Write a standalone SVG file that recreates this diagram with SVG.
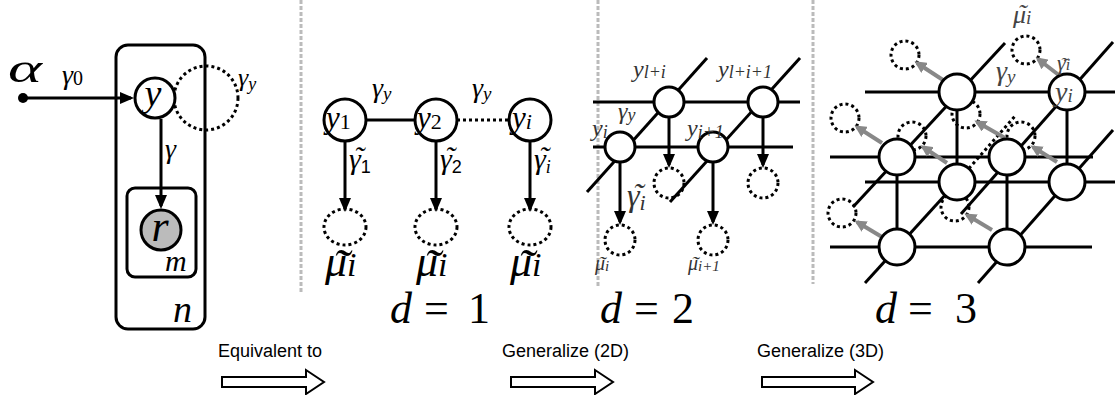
<svg xmlns="http://www.w3.org/2000/svg" width="1115" height="395" viewBox="0 0 1115 395">
<style>
.nd{fill:#fff;stroke:#000;stroke-width:3}
.gr{fill:#bbb;stroke:#000;stroke-width:3}
.dc{fill:none;stroke:#000;stroke-width:3;stroke-dasharray:3 3}
.ed{stroke:#000;stroke-width:3;fill:none}
.ar{stroke:#000;stroke-width:3;fill:none;marker-end:url(#ah)}
.ga{stroke:#888;stroke-width:4;fill:none;marker-end:url(#gh)}
.sep{stroke:#bbb;stroke-width:3;stroke-dasharray:4 2}
.pl{fill:none;stroke:#000;stroke-width:3}
.m{font-family:"Liberation Serif","DejaVu Serif",serif;font-style:italic;fill:#000}
.u{font-style:normal}
.g2{fill:#333}
.g3{fill:#444}
.t{font-family:"Liberation Sans",Arial,sans-serif;font-size:18px;fill:#000}
.blk{fill:#fff;stroke:#000;stroke-width:2}
</style>
<defs>
<marker id="ah" viewBox="0 0 14 12" refX="11" refY="6" markerWidth="14" markerHeight="12" markerUnits="userSpaceOnUse" orient="auto"><path d="M0,0 L14,6 L0,12 z" fill="#000"/></marker>
<marker id="gh" viewBox="0 0 12 12" refX="9" refY="6" markerWidth="12" markerHeight="12" markerUnits="userSpaceOnUse" orient="auto"><path d="M0,0 L12,6 L0,12 z" fill="#888"/></marker>
</defs>

<g id="separators">
<line class="sep" x1="301" y1="0" x2="301" y2="292"/>
<line class="sep" x1="598" y1="0" x2="598" y2="288"/>
<line class="sep" x1="813" y1="0" x2="813" y2="284"/>
</g>

<!-- Left: plate model -->
<g id="plate-n"><rect class="pl" x="116" y="45" width="89" height="284" rx="12"/><text class="m" x="173" y="322" font-size="38">n</text></g>
<g id="plate-m"><rect class="pl" x="127" y="188" width="69" height="89" rx="8"/><text class="m" x="165" y="271" font-size="30">m</text></g>
<g id="alpha"><circle cx="23" cy="98" r="5" fill="#000"/><text class="m" x="8" y="82" font-size="42" textLength="34" lengthAdjust="spacingAndGlyphs">α</text></g>
<g id="loop"><circle class="dc" cx="206" cy="98" r="32"/><text class="m" x="238" y="86" font-size="26">γ<tspan font-size="18" dy="4">y</tspan></text></g>
<g id="connectors-left">
<line class="ar" x1="23" y1="98" x2="131" y2="98"/>
<line class="ar" x1="161" y1="119" x2="161" y2="206"/>
<text class="m" x="62" y="84" font-size="28">γ<tspan class="u" font-size="20" dy="1">0</tspan></text>
<text class="m" x="165" y="158" font-size="28">γ</text>
</g>
<g id="node-y"><circle class="nd" cx="155" cy="98" r="20"/><text class="m" x="153" y="106" font-size="38" text-anchor="middle">y</text></g>
<g id="node-r"><circle class="gr" cx="161" cy="230" r="20"/><text class="m" x="160" y="241" font-size="44" text-anchor="middle">r</text></g>

<!-- d=1 -->
<g id="d1-connectors">
<line class="ed" x1="366" y1="120" x2="415" y2="120"/>
<line class="ed" x1="457" y1="120" x2="509" y2="120" stroke-dasharray="3 3"/>
<line class="ar" x1="345" y1="141" x2="345" y2="209"/>
<line class="ar" x1="436" y1="141" x2="436" y2="209"/>
<line class="ar" x1="530" y1="141" x2="530" y2="209"/>
<text class="m" x="372" y="97" font-size="28">γ<tspan font-size="19" dy="3">y</tspan></text>
<text class="m" x="472" y="97" font-size="28">γ<tspan font-size="19" dy="3">y</tspan></text>
<text class="m" x="349" y="169" font-size="30">γ<tspan class="u" font-family="Liberation Sans,sans-serif" font-size="18" dy="4">1</tspan><tspan x="359" y="167" font-size="30" text-anchor="middle">˜</tspan></text>
<text class="m" x="440" y="169" font-size="30">γ<tspan class="u" font-family="Liberation Sans,sans-serif" font-size="18" dy="4">2</tspan><tspan x="450" y="167" font-size="30" text-anchor="middle">˜</tspan></text>
<text class="m" x="534" y="169" font-size="30">γ<tspan font-size="18" dy="4">i</tspan><tspan x="544" y="167" font-size="30" text-anchor="middle">˜</tspan></text>
</g>
<g id="d1-y1"><circle class="nd" cx="345" cy="120" r="21"/><text class="m" x="326" y="128" font-size="31">y<tspan class="u" font-size="22" dy="1">1</tspan></text></g>
<g id="d1-y2"><circle class="nd" cx="436" cy="120" r="21"/><text class="m" x="417" y="128" font-size="31">y<tspan class="u" font-size="22" dy="1">2</tspan></text></g>
<g id="d1-yi"><circle class="nd" cx="530" cy="120" r="21"/><text class="m" x="512" y="128" font-size="31">y<tspan font-size="22" dy="1">i</tspan></text></g>
<g id="d1-mu1"><ellipse class="dc" cx="345" cy="227" rx="21" ry="18"/><text class="m" x="325" y="276" font-size="44">μ<tspan font-size="34">i</tspan><tspan x="341" y="284" font-size="50" text-anchor="middle">˜</tspan></text></g>
<g id="d1-mu2"><ellipse class="dc" cx="436" cy="227" rx="21" ry="18"/><text class="m" x="416" y="276" font-size="44">μ<tspan font-size="34">i</tspan><tspan x="432" y="284" font-size="50" text-anchor="middle">˜</tspan></text></g>
<g id="d1-mu3"><ellipse class="dc" cx="530" cy="227" rx="21" ry="18"/><text class="m" x="510" y="276" font-size="44">μ<tspan font-size="34">i</tspan><tspan x="526" y="284" font-size="50" text-anchor="middle">˜</tspan></text></g>
<text class="m" x="390" y="323" font-size="44">d<tspan class="u" x="424">=</tspan><tspan class="u" x="468">1</tspan></text>

<!-- d=2 -->
<g id="d2-connectors">
<line class="ed" x1="593" y1="102" x2="800" y2="102"/>
<line class="ed" x1="593" y1="147" x2="793" y2="147"/>
<line class="ed" x1="587" y1="192" x2="707" y2="58"/>
<line class="ed" x1="670" y1="202" x2="800" y2="58"/>
<line class="ar" x1="669" y1="117" x2="669" y2="165"/>
<line class="ar" x1="763" y1="117" x2="763" y2="165"/>
<line class="ar" x1="620" y1="162" x2="620" y2="222"/>
<line class="ar" x1="713" y1="162" x2="713" y2="222"/>
</g>
<g id="d2-dotted"><circle class="dc" cx="669" cy="183" r="15"/><circle class="dc" cx="763" cy="183" r="15"/><circle class="dc" cx="620" cy="240" r="15"/><circle class="dc" cx="713" cy="240" r="15"/></g>
<g id="d2-n1"><circle class="nd" cx="669" cy="102" r="15"/></g>
<g id="d2-n2"><circle class="nd" cx="763" cy="102" r="15"/></g>
<g id="d2-n3"><circle class="nd" cx="620" cy="147" r="15"/></g>
<g id="d2-n4"><circle class="nd" cx="713" cy="147" r="15"/></g>
<g id="d2-labels">
<text class="m g2" x="633" y="77" font-size="24">y<tspan font-size="18" dy="1">l+i</tspan></text>
<text class="m g2" x="718" y="77" font-size="24">y<tspan font-size="18" dy="1">l+i+1</tspan></text>
<text class="m g2" x="618" y="119" font-size="24">γ<tspan font-size="18" dy="2">y</tspan></text>
<text class="m g2" x="592" y="136" font-size="24">y<tspan font-size="18" dy="2">i</tspan></text>
<text class="m g2" x="687" y="136" font-size="24">y<tspan font-size="18" dy="2">i+1</tspan></text>
<text class="m g2" x="627" y="206" font-size="32">γ<tspan font-size="22" dy="4">i</tspan><tspan x="638" y="205" font-size="32" text-anchor="middle">˜</tspan></text>
<text class="m g2" x="595" y="270" font-size="20">μ<tspan font-size="15" dy="1">i</tspan><tspan x="602" y="271" font-size="22" text-anchor="middle">˜</tspan></text>
<text class="m g2" x="688" y="270" font-size="20">μ<tspan font-size="15" dy="1">i+1</tspan><tspan x="695" y="271" font-size="22" text-anchor="middle">˜</tspan></text>
</g>
<text class="m" x="600" y="323" font-size="44">d<tspan class="u" x="634">=</tspan><tspan class="u" x="672">2</tspan></text>

<!-- d=3 -->
<g id="d3-dotted">
<circle class="dc" cx="905" cy="55" r="14"/>
<circle class="dc" cx="1026" cy="50" r="14"/>
<circle class="dc" cx="845" cy="118" r="14"/>
<circle class="dc" cx="966" cy="114" r="14"/>
<circle class="dc" cx="912" cy="136" r="14"/>
<circle class="dc" cx="1021" cy="136" r="14"/>
<circle class="dc" cx="842" cy="213" r="14"/>
<circle class="dc" cx="955" cy="207" r="14"/>
</g>
<g id="d3-connectors">
<line class="ed" x1="865" y1="92" x2="1115" y2="92"/>
<line class="ed" x1="830" y1="157" x2="1093" y2="157"/>
<line class="ed" x1="865" y1="182" x2="1115" y2="182"/>
<line class="ed" x1="830" y1="247" x2="1092" y2="247"/>
<line class="ed" x1="957" y1="92" x2="957" y2="182"/>
<line class="ed" x1="1067" y1="92" x2="1067" y2="182"/>
<line class="ed" x1="897" y1="157" x2="897" y2="247"/>
<line class="ed" x1="1007" y1="157" x2="1007" y2="247"/>
<line class="ed" x1="853" y1="207" x2="1005" y2="43"/>
<line class="ed" x1="961" y1="214" x2="1113" y2="42"/>
<line class="ed" x1="865" y1="283" x2="957" y2="182"/>
<line class="ed" x1="957" y1="182" x2="1015" y2="116" stroke-dasharray="3 3"/>
<line class="ed" x1="978" y1="283" x2="1113" y2="130"/>
<line class="ga" x1="943" y1="80" x2="917" y2="63"/>
<line class="ga" x1="1060" y1="76" x2="1038" y2="59"/>
<line class="ga" x1="882" y1="143" x2="857" y2="127"/>
<line class="ga" x1="1005" y1="138" x2="977" y2="122"/>
<line class="ga" x1="947" y1="163" x2="923" y2="147"/>
<line class="ga" x1="1057" y1="162" x2="1033" y2="147"/>
<line class="ga" x1="882" y1="237" x2="857" y2="222"/>
<line class="ga" x1="992" y1="230" x2="967" y2="215"/>
</g>
<g id="d3-A"><circle class="nd" cx="957" cy="92" r="18"/></g>
<g id="d3-B"><circle class="nd" cx="1067" cy="92" r="18"/><text class="m g3" x="1055" y="101" font-size="28">y<tspan font-size="19" dy="1">i</tspan></text></g>
<g id="d3-C"><circle class="nd" cx="897" cy="157" r="18"/></g>
<g id="d3-D"><circle class="nd" cx="1007" cy="157" r="18"/></g>
<g id="d3-E"><circle class="nd" cx="957" cy="182" r="18"/></g>
<g id="d3-F"><circle class="nd" cx="1067" cy="182" r="18"/></g>
<g id="d3-G"><circle class="nd" cx="897" cy="247" r="18"/></g>
<g id="d3-H"><circle class="nd" cx="1007" cy="247" r="18"/></g>
<g id="d3-labels">
<text class="m g3" x="1013" y="23" font-size="26">μ<tspan font-size="19" dy="1">i</tspan><tspan x="1022" y="22" font-size="26" text-anchor="middle">˜</tspan></text>
<text class="m g3" x="1057" y="70" font-size="22">γ<tspan font-size="16" dy="0">i</tspan><tspan x="1064" y="72" font-size="22" text-anchor="middle">˜</tspan></text>
<text class="m g3" x="996" y="80" font-size="28">γ<tspan font-size="19" dy="3">y</tspan></text>
</g>
<text class="m" x="875" y="323" font-size="44">d<tspan class="u" x="908">=</tspan><tspan class="u" x="955">3</tspan></text>

<!-- bottom arrows -->
<g id="arrow-equiv"><text class="t" x="218" y="357">Equivalent to</text><path class="blk" d="M222,377 H306 V370 L324,382 L306,394 V387 H222 Z"/></g>
<g id="arrow-2d"><text class="t" x="502" y="357">Generalize (2D)</text><path class="blk" d="M511,377 H595 V370 L613,382 L595,394 V387 H511 Z"/></g>
<g id="arrow-3d"><text class="t" x="757" y="357">Generalize (3D)</text><path class="blk" d="M762,377 H855 V370 L873,382 L855,394 V387 H762 Z"/></g>
</svg>
